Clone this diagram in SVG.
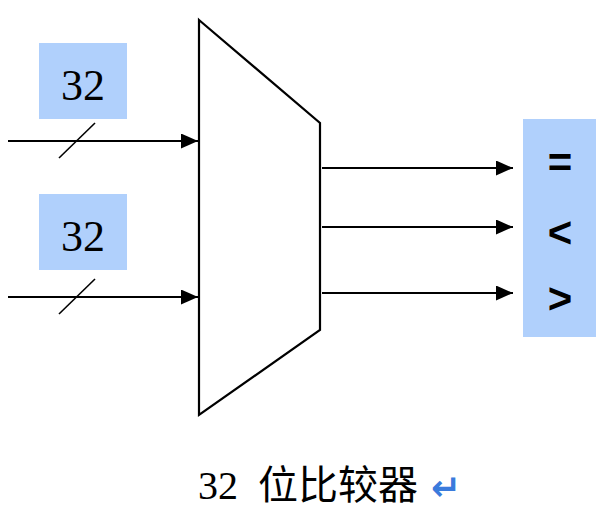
<svg xmlns="http://www.w3.org/2000/svg" width="610" height="509" viewBox="0 0 610 509">
<style>
.box{fill:#b0d0fc}
.line{stroke:#000;stroke-width:2.2;fill:none}
.slash{stroke:#000;stroke-width:1.6}
.num{font-family:"Liberation Serif",serif;font-size:44px;text-anchor:middle;fill:#000}
.sym{font-family:"Liberation Sans",Arial,sans-serif;font-size:42px;font-weight:bold;text-anchor:middle;fill:#000}
.cap{font-family:"Liberation Serif","Noto Sans CJK SC",serif;font-size:40px;fill:#000}
</style>
<defs>
<marker id="ah" markerWidth="17" markerHeight="15" refX="17" refY="7.5" orient="auto" markerUnits="userSpaceOnUse">
<path d="M0,0 L17,7.5 L0,15 Z" fill="#000"/>
</marker>
</defs>
<rect width="610" height="509" fill="#fff"/>
<g id="comparator">
<polygon class="line" points="199,20 320,123 320,330 199,415"/>
</g>
<g id="inputA">
<rect class="box" x="39" y="43" width="88" height="76"/>
<text class="num" x="83" y="100">32</text>
</g>
<g id="inputB">
<rect class="box" x="39" y="194" width="88" height="76"/>
<text class="num" x="83" y="251">32</text>
</g>
<g id="outputs">
<rect class="box" x="523" y="119" width="73" height="218"/>
<text class="sym" x="560" y="177">=</text>
<text class="sym" x="560" y="247">&lt;</text>
<text class="sym" x="560" y="313">&gt;</text>
</g>
<g id="connectors">
<line class="line" x1="8" y1="141" x2="198" y2="141" marker-end="url(#ah)"/>
<line class="slash" x1="59" y1="158" x2="95" y2="123"/>
<line class="line" x1="8" y1="297" x2="198" y2="297" marker-end="url(#ah)"/>
<line class="slash" x1="59" y1="314" x2="95" y2="279"/>
<line class="line" x1="322" y1="168" x2="513" y2="168" marker-end="url(#ah)"/>
<line class="line" x1="322" y1="227" x2="513" y2="227" marker-end="url(#ah)"/>
<line class="line" x1="322" y1="293" x2="513" y2="293" marker-end="url(#ah)"/>
</g>
<g id="caption">
<text class="cap" x="198" y="499">32</text>
<text class="cap" x="258" y="499">位比较器</text>
<text x="431" y="500" font-family="'DejaVu Sans',sans-serif" font-size="36" font-weight="bold" fill="#3a7bdc">↵</text>
</g>
</svg>
